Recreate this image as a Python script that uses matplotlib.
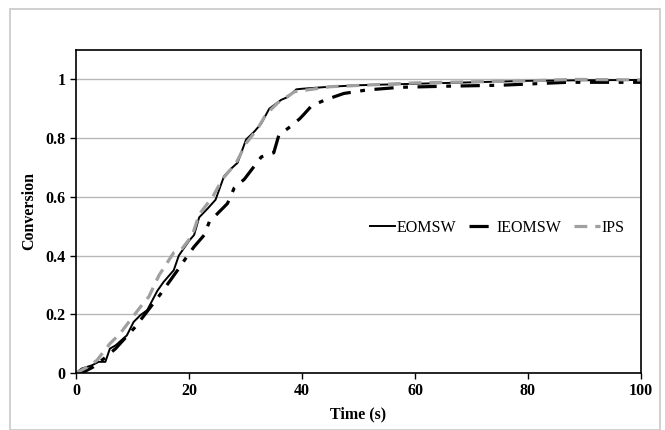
import numpy as np
import matplotlib.pyplot as plt
from matplotlib.patches import Rectangle

# data
t_eomsw = [0, 1, 2.8, 4, 5.2, 6, 7, 9, 10.2, 11.4, 12.6, 14.4, 15.5, 17.3, 18.2, 20, 20.9,
           21.8, 23.3, 24.7, 26.2, 27.4, 28.6, 30.1, 31.6, 32.8, 34.2, 36.3, 37.5, 39, 40,
           45, 50, 60, 70, 80, 90, 100]
x_eomsw = [0, 0.015, 0.026, 0.038, 0.038, 0.083, 0.094, 0.128, 0.174, 0.197, 0.214, 0.28,
           0.31, 0.35, 0.40, 0.45, 0.47, 0.53, 0.56, 0.59, 0.67, 0.695, 0.716, 0.795, 0.823,
           0.85, 0.90, 0.93, 0.94, 0.966, 0.968, 0.975, 0.98, 0.985, 0.99, 0.995, 0.997, 0.998]

t_ieomsw = [0, 1, 3, 5, 7, 10.5, 15, 18.2, 19.4, 20.9, 22.7, 23.6, 26.8, 28, 29.8, 32.8,
            35, 35.9, 38, 39.6, 40.2, 41.7, 44.1, 47.4, 51.5, 57.4, 66.3, 75.2, 81, 87, 100]
x_ieomsw = [0, 0.0, 0.02, 0.05, 0.083, 0.157, 0.27, 0.356, 0.39, 0.43, 0.47, 0.515, 0.577,
            0.63, 0.66, 0.736, 0.75, 0.81, 0.84, 0.866, 0.878, 0.91, 0.93, 0.952, 0.964,
            0.973, 0.977, 0.98, 0.985, 0.99, 0.99]

t_ips = [0, 2, 3.7, 6, 7.8, 9.6, 11.4, 12.9, 14.7, 17.3, 18.8, 20.6, 21.8, 24.2, 25.9, 28.3,
         30.1, 32.2, 33.6, 35.7, 38.7, 45, 60, 80, 88, 100]
x_ips = [0, 0.02, 0.043, 0.1, 0.134, 0.18, 0.225, 0.26, 0.333, 0.41, 0.424, 0.47, 0.54,
         0.6, 0.66, 0.714, 0.782, 0.834, 0.88, 0.92, 0.958, 0.975, 0.988, 0.995, 1.0, 0.998]

serif = 'Liberation Serif'

fig = plt.figure(figsize=(6.65, 4.3), dpi=100)
fig.patches.append(Rectangle((10 / 665, 0), 650 / 665, 421 / 430, transform=fig.transFigure,
                             fill=False, edgecolor='#c8c8c8', linewidth=1.2))
ax = fig.add_axes([76 / 665, 57 / 430, 565 / 665, 323 / 430])

ax.plot(t_eomsw, x_eomsw, color='black', lw=1.4, label='EOMSW')
ax.plot(t_ieomsw, x_ieomsw, color='black', lw=2.3, dashes=(6, 3, 1.5, 3), label='IEOMSW')
ax.plot(t_ips, x_ips, color='#a0a0a0', lw=2.3, dashes=(4, 2.5), label='IPS')

ax.set_xlim(0, 100)
ax.set_ylim(0, 1.1)
ax.set_xticks([0, 20, 40, 60, 80, 100])
ax.set_yticks([0, 0.2, 0.4, 0.6, 0.8, 1])
ax.set_yticklabels(['0', '0.2', '0.4', '0.6', '0.8', '1'])
ax.grid(axis='y', color='#b8b8b8', lw=1)
ax.set_axisbelow(True)
for s in ax.spines.values():
    s.set_linewidth(1.2)
ax.tick_params(axis='both', direction='out', length=4, width=1, labelsize=11.5)
for lab in ax.get_xticklabels() + ax.get_yticklabels():
    lab.set_fontfamily(serif)
    lab.set_fontweight('bold')

ax.set_xlabel('Time (s)', fontfamily=serif, fontweight='bold', fontsize=11.5, labelpad=5)
ax.set_ylabel('Conversion', fontfamily=serif, fontweight='bold', fontsize=11.5, labelpad=6)

ax.legend(loc='center left', bbox_to_anchor=(0.52, 0.45), ncol=3, frameon=False,
          prop={'family': serif, 'size': 11.5}, handlelength=1.6, handletextpad=0.1,
          columnspacing=0.8, borderpad=0, borderaxespad=0)

fig.savefig('out.png', dpi=100)
